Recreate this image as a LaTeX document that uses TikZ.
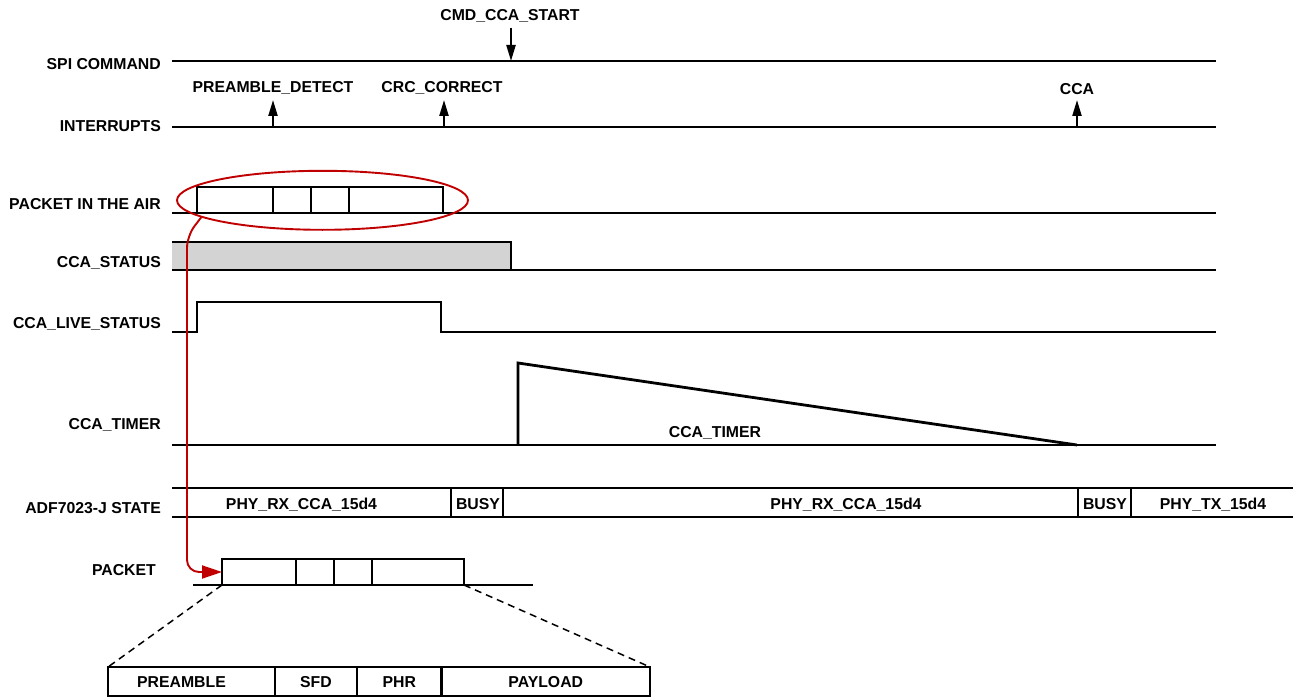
\documentclass[tikz,border=0pt]{standalone}
\usepackage{fontspec}
\setmainfont{Liberation Sans}
\usepackage{xcolor}
\definecolor{adired}{HTML}{C00000}
\definecolor{adigray}{HTML}{D3D3D3}
\usetikzlibrary{positioning, arrows.meta, shapes.geometric}
\tikzset{
    sig/.style = {line width=2.8pt},
    lbl/.style = {font=\fontsize{15.8}{18}\selectfont\bfseries, inner sep=0pt,
                  text height=11.3pt, text depth=0pt},
    rowlbl/.style = {lbl, anchor=east},
    cell/.style = {lbl, draw, line width=2.6pt, minimum height=26pt,
                   outer sep=0pt, anchor=west},
    evtarrow/.style = {-{Triangle[length=16pt, width=9pt]}, line width=2.2pt},
    redarrow/.style = {-{Triangle[length=20pt, width=13pt]}, line width=1.9pt, color=adired},
    zoomline/.style = {line width=1.5pt, dash pattern=on 7pt off 5pt},
}

\begin{document}
\begin{tikzpicture}[x=1pt, y=-1pt]
  \useasboundingbox (0,0) rectangle (1298,698);
  % Row labels
  \node[rowlbl] (lspi)   at (161,64)    {SPI COMMAND};
  \node[rowlbl] (lirq)   at (161,126)   {INTERRUPTS};
  \node[rowlbl] (lair)   at (161,204)   {PACKET IN THE AIR};
  \node[rowlbl] (lstat)  at (161,262)   {CCA\_STATUS};
  \node[rowlbl] (llive)  at (161,323)   {CCA\_LIVE\_STATUS};
  \node[rowlbl] (ltimer) at (161,424)   {CCA\_TIMER};
  \node[rowlbl] (lstate) at (161,507.5) {ADF7023-J STATE};
  \node[rowlbl] (lpkt)   at (156,569.5) {PACKET};
  % SPI command line
  \draw[sig] (172,61) -- (1216,61);
  \node[lbl] (cmd) at (510,15) {CMD\_CCA\_START};
  \coordinate (cmdhit) at (511,61);
  \draw[evtarrow] ([yshift=-7pt]cmd.south -| cmdhit) -- (cmdhit);
  % Interrupt line
  \draw[sig] (172,127) -- (1216,127);
  \node[lbl] (pre) at (273,86.5) {PREAMBLE\_DETECT};
  \node[lbl] (crc) at (442,86.5) {CRC\_CORRECT};
  \node[lbl] (cca) at (1077,88.5) {CCA};
  \coordinate (prehit) at (273,127);
  \coordinate (crchit) at (444,127);
  \coordinate (ccahit) at (1077,127);
  \draw[evtarrow] (prehit) -- (273,100);
  \draw[evtarrow] (crchit) -- (444,100);
  \draw[evtarrow] (ccahit) -- (1077,100);
  % Packet in the air
  \draw[sig] (172,213) -- (1216,213);
  \node[cell, minimum width=76pt] (air1) at (197,200) {};
  \node[cell, minimum width=38pt, right=0pt of air1] (air2) {};
  \node[cell, minimum width=38pt, right=0pt of air2] (air3) {};
  \node[cell, minimum width=94pt, right=0pt of air3] (air4) {};
  \node[ellipse, draw=adired, line width=1.9pt, minimum width=291pt,
        minimum height=59pt] (airfocus) at (322.5,200.3) {};
  % CCA status
  \fill[adigray] (172,242) rectangle (511,270);
  \draw[sig] (172,242) -- (511,242) -- (511,270);
  \draw[sig] (172,270) -- (1216,270);
  % CCA live status
  \draw[sig] (172,332) -- (197,332) -- (197,302) -- (441,302) -- (441,332) -- (1216,332);
  % CCA timer
  \draw[sig] (172,445) -- (1216,445);
  \draw[sig] (518,445) -- (518,363) -- (1077,445);
  \node[lbl] (tmr) at (715,431.5) {CCA\_TIMER};
  % Radio state
  \draw[sig] (172,488) -- (1293,488);
  \draw[sig] (172,517) -- (1293,517);
  \foreach \x in {451,503,1078,1131}
    \draw[sig] (\x,488) -- (\x,517);
  \node[lbl] (st1) at (301.5,503.5) {PHY\_RX\_CCA\_15d4};
  \node[lbl] (st2) at (478,503.5)   {BUSY};
  \node[lbl] (st3) at (846,503.5)   {PHY\_RX\_CCA\_15d4};
  \node[lbl] (st4) at (1105,503.5)  {BUSY};
  \node[lbl] (st5) at (1213,503.5)  {PHY\_TX\_15d4};
  % Packet
  \draw[sig] (193,585) -- (533,585);
  \node[cell, minimum width=74pt] (pk1) at (222,572) {};
  \node[cell, minimum width=38pt, right=0pt of pk1] (pk2) {};
  \node[cell, minimum width=38pt, right=0pt of pk2] (pk3) {};
  \node[cell, minimum width=92pt, right=0pt of pk3] (pk4) {};
  % Expanded packet fields
  \node[cell, minimum width=167pt, minimum height=29pt] (big1) at (108,681.5) {PREAMBLE\hspace*{20pt}};
  \node[cell, minimum width=82pt, minimum height=29pt, right=0pt of big1] (big2) {SFD};
  \node[cell, minimum width=84.5pt, minimum height=29pt, right=0pt of big2] (big3) {PHR};
  \node[cell, minimum width=208.5pt, minimum height=29pt, right=0pt of big3] (big4) {PAYLOAD};
  \draw[zoomline] (pk1.south west) -- (big1.north west);
  \draw[zoomline] (pk4.south east) -- (big4.north east);
  % Packet in the air -> packet
  \draw[redarrow, rounded corners=12pt] (airfocus.188) -- (187,236) -- (187,572) -- (pk1.west);
\end{tikzpicture}
\end{document}
